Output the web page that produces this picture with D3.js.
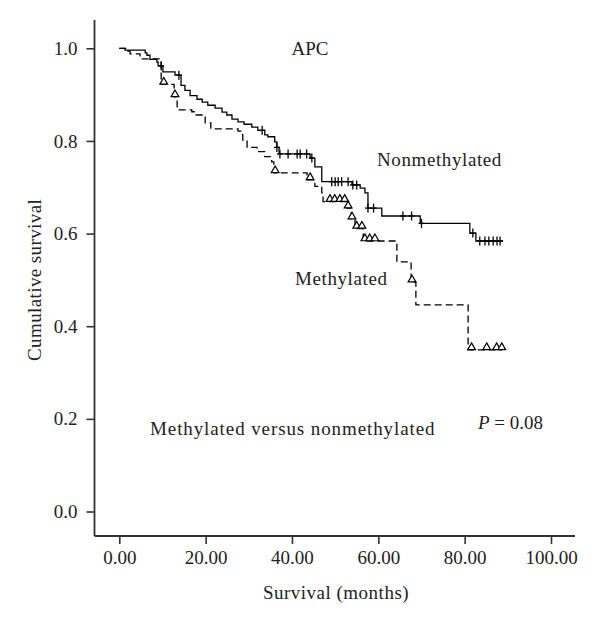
<!DOCTYPE html>
<html>
<head>
<meta charset="utf-8">
<script src="https://cdn.jsdelivr.net/npm/d3@7"></script>
<style>
html,body{margin:0;padding:0;background:#fff;}
svg text{font-family:"Liberation Serif","Times New Roman",serif;fill:#222;}
</style>
</head>
<body>
<svg id="chart" width="600" height="627"></svg>
<script>
// ---- data ----
const xTicks = [0, 20, 40, 60, 80, 100];
const yTicks = [0, 0.2, 0.4, 0.6, 0.8, 1.0];

const nonmethTimes = [0, 1.3, 6.0, 6.4, 7.1, 8.7, 9.0, 10.1, 12.9, 14.3, 15.2, 16.4, 18.0, 19.2, 20.5, 22.2, 23.8, 24.9, 26.1, 27.5, 28.9, 30.7, 32.1, 33.7, 34.4, 36.0, 36.5, 37.0, 44.2, 45.3, 46.9, 53.9, 55.8, 56.9, 57.6, 60.8, 69.7, 81.2, 82.6, 88.9];
const nonmethSurv = [1.0, 0.996, 0.990, 0.985, 0.976, 0.970, 0.962, 0.949, 0.942, 0.920, 0.909, 0.898, 0.890, 0.884, 0.877, 0.871, 0.862, 0.856, 0.847, 0.841, 0.836, 0.830, 0.823, 0.813, 0.809, 0.798, 0.786, 0.772, 0.763, 0.744, 0.712, 0.705, 0.698, 0.688, 0.655, 0.638, 0.622, 0.601, 0.584, 0.584];
const nonmethCensor = [9.7, 13.8, 33.1, 36.5, 37.2, 39.1, 41.2, 41.9, 43.4, 44.6, 49.2, 50.0, 50.7, 51.5, 53.0, 54.1, 55.0, 57.6, 58.9, 65.7, 67.7, 70.0, 81.9, 83.5, 84.7, 85.6, 86.6, 87.5, 88.2];

const methTimes = [0, 2.0, 2.5, 4.8, 9.7, 12.7, 13.4, 16.8, 17.8, 19.9, 21.2, 27.5, 28.6, 29.6, 31.9, 33.7, 35.3, 35.8, 43.5, 45.3, 46.9, 47.2, 52.7, 53.7, 54.6, 56.5, 64.3, 67.6, 68.7, 80.8, 88.6];
const methSurv = [1.0, 0.994, 0.988, 0.977, 0.922, 0.895, 0.867, 0.863, 0.856, 0.839, 0.826, 0.821, 0.802, 0.786, 0.777, 0.766, 0.755, 0.731, 0.716, 0.702, 0.688, 0.669, 0.655, 0.631, 0.611, 0.584, 0.539, 0.495, 0.446, 0.349, 0.349];
const methCensor = [10.3, 12.9, 36.1, 44.2, 48.8, 49.9, 51.1, 52.2, 53.0, 53.9, 55.0, 56.2, 56.9, 58.0, 59.2, 67.8, 81.6, 85.1, 87.4, 88.6];

// ---- chart ----
const svg = d3.select("#chart");
const x = d3.scaleLinear().domain([0, 100]).range([119.3, 551]);
const y = d3.scaleLinear().domain([0, 1]).range([511.5, 48.3]);
const xExt = [x.invert(94.5), x.invert(575)];
const yExt = [y.invert(536), y.invert(20)];
const axisColor = "#333";
const fs = 19;

// axes
const xAxis = svg.append("g").attr("transform", `translate(0,${y(yExt[0])})`)
  .call(d3.axisBottom(x).tickValues(xTicks).tickFormat(d3.format(".2f")).tickSize(8).tickSizeOuter(0).tickPadding(7));
const yAxis = svg.append("g").attr("transform", `translate(${x(xExt[0])},0)`)
  .call(d3.axisLeft(y).tickValues(yTicks).tickFormat(d3.format(".1f")).tickSize(8).tickSizeOuter(0).tickPadding(9));
[xAxis, yAxis].forEach(g => {
  g.select(".domain").remove();
  g.selectAll(".tick line").attr("stroke", axisColor).attr("stroke-width", 1.6);
  g.selectAll(".tick text").attr("font-size", fs).attr("font-family", "Liberation Serif").attr("fill", "#222");
});
svg.append("line").attr("x1", x(xExt[0])).attr("x2", x(xExt[1])).attr("y1", y(yExt[0])).attr("y2", y(yExt[0]))
  .attr("stroke", axisColor).attr("stroke-width", 1.8);
svg.append("line").attr("x1", x(xExt[0])).attr("x2", x(xExt[0])).attr("y1", y(yExt[0])).attr("y2", y(yExt[1]))
  .attr("stroke", axisColor).attr("stroke-width", 1.8);

// curves
const line = d3.line().x(d => x(d[0])).y(d => y(d[1])).curve(d3.curveStepAfter);
const nonData = nonmethTimes.map((t, i) => [t, nonmethSurv[i]]);
const methData = methTimes.map((t, i) => [t, methSurv[i]]);
function survAt(times, surv, t) {
  let v = surv[0];
  for (let i = 0; i < times.length; i++) { if (times[i] <= t + 1e-9) v = surv[i]; }
  return v;
}
svg.append("path").datum(methData).attr("d", line).attr("fill", "none")
  .attr("stroke", "#000").attr("stroke-width", 1.3).attr("stroke-dasharray", "7,4");
svg.append("path").datum(nonData).attr("d", line).attr("fill", "none")
  .attr("stroke", "#000").attr("stroke-width", 1.3);

// censor marks: plus for nonmethylated
const plus = svg.append("g").selectAll("g").data(nonmethCensor).join("g")
  .attr("transform", t => `translate(${x(t)},${y(survAt(nonmethTimes, nonmethSurv, t))})`);
plus.append("line").attr("x1", 0).attr("x2", 0).attr("y1", -4.5).attr("y2", 4.5).attr("stroke", "#000").attr("stroke-width", 1.3);
plus.append("line").attr("x1", -3).attr("x2", 3).attr("y1", 0).attr("y2", 0).attr("stroke", "#000").attr("stroke-width", 1.3);

// censor marks: triangles for methylated
svg.append("g").selectAll("path").data(methCensor).join("path")
  .attr("d", d3.symbol(d3.symbolTriangle, 26))
  .attr("transform", t => `translate(${x(t)},${y(survAt(methTimes, methSurv, t)) - 2.5})`)
  .attr("fill", "#fff").attr("stroke", "#000").attr("stroke-width", 1.2);

// texts
function txt(str, xp, yp, anchor, extra) {
  const t = svg.append("text").attr("x", xp).attr("y", yp).attr("font-size", fs)
    .attr("text-anchor", anchor || "start").text(str);
  if (extra) extra(t);
  return t;
}
txt("APC", 310, 55, "middle");
txt("Nonmethylated", 377, 166, "start", t => t.attr("letter-spacing", 0.6));
txt("Methylated", 295, 285, "start", t => t.attr("letter-spacing", 0.6));
txt("Methylated versus nonmethylated", 150, 435, "start", t => t.attr("letter-spacing", 0.9));
const p = svg.append("text").attr("x", 478).attr("y", 429).attr("font-size", fs);
p.append("tspan").attr("font-style", "italic").text("P");
p.append("tspan").text(" = 0.08");
txt("Survival (months)", 336, 599, "middle", t => t.attr("letter-spacing", 0.5));
svg.append("text").attr("transform", `translate(41,${y(0.5)}) rotate(-90)`)
  .attr("text-anchor", "middle").attr("font-size", fs).attr("letter-spacing", 0.4).text("Cumulative survival");
</script>
</body>
</html>
